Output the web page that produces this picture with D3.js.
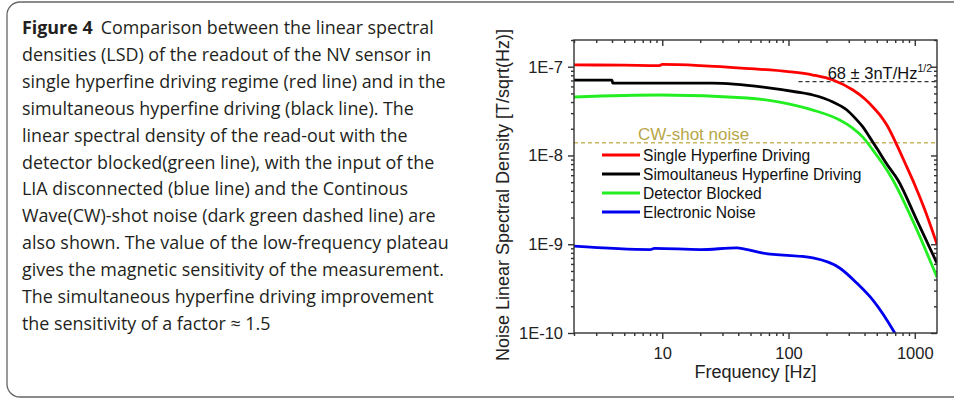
<!DOCTYPE html>
<html lang="en">
<head>
<meta charset="utf-8">
<title>Figure 4</title>
<style>
  body { margin: 0; background: #fff; }
  #fig text { font-family: "Liberation Sans", Arial, sans-serif; }
  #fig .caption text { font-family: "Open Sans", sans-serif; fill: #231f20; }
  .axis path, .axis line { stroke: #333; stroke-width: 1.4; }
</style>
</head>
<body>
<svg id="fig" width="954" height="399"></svg>

<script src="https://cdnjs.cloudflare.com/ajax/libs/d3/7.8.5/d3.min.js"></script>
<script>
"use strict";

// caption lines
var captionLines = [
  "Comparison between the linear spectral",
  "densities (LSD) of the readout of the NV sensor in",
  "single hyperfine driving regime (red line) and in the",
  "simultaneous hyperfine driving (black line). The",
  "linear spectral density of the read-out with the",
  "detector blocked(green line), with the input of the",
  "LIA disconnected (blue line) and the Continous",
  "Wave(CW)-shot noise (dark green dashed line) are",
  "also shown. The value of the low-frequency plateau",
  "gives the magnetic sensitivity of the measurement.",
  "The simultaneous hyperfine driving improvement",
  "the sensitivity of a factor \u2248 1.5"
];

// data (frequency in Hz, LSD in T/sqrt(Hz))
var redFreq   = [2, 5, 9.5, 10, 20, 50, 100, 156, 225, 324, 403, 466, 529, 601, 722, 866, 1001, 1203, 1500];
var redVal    = [1.05e-7, 1.04e-7, 1.03e-7, 1.06e-7, 1.03e-7, 0.95e-7, 0.88e-7, 8.06e-8, 7.08e-8, 5.46e-8, 4.33e-8, 3.52e-8, 2.86e-8, 2.2e-8, 1.31e-8, 7.4e-9, 4.65e-9, 2.43e-9, 1.0e-9];

var blackFreq = [2, 4, 4.05, 25, 63, 116, 156, 225, 290, 340, 388, 440, 511, 600, 735, 1038, 1500];
var blackVal  = [7.08e-8, 7.08e-8, 6.55e-8, 6.55e-8, 5.9e-8, 5.19e-8, 4.8e-8, 4.0e-8, 3.25e-8, 2.6e-8, 2.1e-8, 1.6e-8, 1.15e-8, 8.0e-9, 5.3e-9, 1.87e-9, 6.1e-10];

var greenFreq = [2, 9.6, 47, 85, 156, 254, 320, 388, 466, 560, 671, 1000, 1500];
var greenVal  = [4.56e-8, 4.8e-8, 4.44e-8, 4.0e-8, 3.25e-8, 2.51e-8, 2.05e-8, 1.61e-8, 1.15e-8, 8.0e-9, 5.3e-9, 1.64e-9, 4.26e-10];

var blueFreq  = [2, 8, 8.7, 20, 39, 45, 63, 156, 254, 347, 466, 695, 760];
var blueVal   = [9.5e-10, 8.7e-10, 9.0e-10, 8.7e-10, 9.1e-10, 8.8e-10, 7.96e-10, 7.0e-10, 5.4e-10, 3.66e-10, 2.35e-10, 1.0e-10, 8.0e-11];

var seriesNames  = ["Single Hyperfine Driving", "Simoultaneus Hyperfine Driving", "Detector Blocked", "Electronic Noise"];
var seriesColors = ["#ff0000", "#000000", "#22ee22", "#0000ee"];

var cwShotNoise = 1.39e-8;
var sensLevel = 6.8e-8;
var sensFrom = 120;

var xMajor = [10, 100, 1000];
var yMajor = [1e-10, 1e-9, 1e-8, 1e-7];
var yLabels = ["1E-10", "1E-9", "1E-8", "1E-7"];

var svg = d3.select("#fig");

// rounded frame round the whole figure (right side runs off the page)
svg.append("rect")
  .attr("x", 7).attr("y", 2)
  .attr("width", 1000).attr("height", 395)
  .attr("rx", 13)
  .attr("fill", "none").attr("stroke", "#666").attr("stroke-width", 1.3);

// caption
var cap = svg.append("g").attr("class", "caption");
var fs = 16;
var probe = cap.append("text").attr("font-size", fs).text(captionLines[8]);
fs = fs * 427 / probe.node().getComputedTextLength();
probe.remove();

var first = cap.append("text").attr("x", 22).attr("y", 34).attr("font-size", fs);
first.append("tspan").attr("font-weight", "bold").text("Figure 4");
first.append("tspan").attr("dx", 8).text(captionLines[0]);

cap.selectAll("text.line")
  .data(captionLines.slice(1))
  .enter()
  .append("text")
  .attr("class", "line")
  .attr("x", 22)
  .attr("y", function(d, i){ return 34 + (i + 1) * 26.9; })
  .attr("font-size", fs)
  .text(function(d){ return d; });

// plot
var L = 574, R = 937, T = 40, B = 333;
var x = d3.scaleLog().domain([2, 1500]).range([L, R]);
var y = d3.scaleLog().domain([1e-10, 2e-7]).range([B, T]);

function minors(lo, hi){
  var out = [];
  for (var e = lo; e <= hi; e++){
    for (var m = 1; m <= 9; m++){ out.push(m * Math.pow(10, e)); }
  }
  return out;
}
var xMinor = minors(0, 3).filter(function(v){ return v >= 2 && v <= 1500 && xMajor.indexOf(v) < 0; });
var yMinor = minors(-10, -7).filter(function(v){ return v > 1e-10 && v <= 2.01e-7 && v.toPrecision(1).charAt(0) !== "1"; });

function addAxis(axis, tr){
  var g = svg.append("g").attr("class", "axis").attr("transform", tr).call(axis);
  g.select(".domain").remove();
  return g;
}

// bottom
addAxis(d3.axisBottom(x).tickValues(xMinor).tickSize(3).tickFormat(""), "translate(0," + B + ")");
var xb = addAxis(d3.axisBottom(x).tickValues(xMajor).tickSize(6).tickFormat(d3.format("d")), "translate(0," + B + ")");
xb.selectAll("text").attr("font-size", 16.5).attr("fill", "#222").attr("dy", "1.05em");
// top (inward)
addAxis(d3.axisTop(x).tickValues(xMinor).tickSize(-3).tickFormat(""), "translate(0," + T + ")");
addAxis(d3.axisTop(x).tickValues(xMajor).tickSize(-6).tickFormat(""), "translate(0," + T + ")");
// left
addAxis(d3.axisLeft(y).tickValues(yMinor).tickSize(3).tickFormat(""), "translate(" + L + ",0)");
var yl = addAxis(d3.axisLeft(y).tickValues(yMajor).tickSize(6)
  .tickFormat(function(d, i){ return yLabels[i]; }), "translate(" + L + ",0)");
yl.selectAll("text").attr("font-size", 16.5).attr("fill", "#222").attr("x", -11);
// right (inward)
addAxis(d3.axisRight(y).tickValues(yMinor).tickSize(-3).tickFormat(""), "translate(" + R + ",0)");
addAxis(d3.axisRight(y).tickValues(yMajor).tickSize(-6).tickFormat(""), "translate(" + R + ",0)");

svg.append("clipPath").attr("id", "clip")
  .append("rect").attr("x", L).attr("y", T).attr("width", R - L).attr("height", B - T);

var plot = svg.append("g").attr("clip-path", "url(#clip)");

// CW shot noise
plot.append("line")
  .attr("x1", L).attr("x2", R)
  .attr("y1", y(cwShotNoise)).attr("y2", y(cwShotNoise))
  .attr("stroke", "#c8b560").attr("stroke-width", 1.6).attr("stroke-dasharray", "4,3");

// sensitivity level
plot.append("line")
  .attr("x1", x(sensFrom)).attr("x2", R)
  .attr("y1", y(sensLevel)).attr("y2", y(sensLevel))
  .attr("stroke", "#333").attr("stroke-width", 1.4).attr("stroke-dasharray", "4,3");

var line = d3.line()
  .x(function(d){ return x(d[0]); })
  .y(function(d){ return y(d[1]); })
  .curve(d3.curveMonotoneX);

var series = [
  d3.zip(redFreq, redVal),
  d3.zip(blackFreq, blackVal),
  d3.zip(greenFreq, greenVal),
  d3.zip(blueFreq, blueVal)
];
// draw blue, green, black, red so red ends on top
[3, 2, 1, 0].forEach(function(k){
  plot.append("path")
    .datum(series[k])
    .attr("d", line)
    .attr("fill", "none")
    .attr("stroke", seriesColors[k])
    .attr("stroke-width", 2.8)
    .attr("stroke-linejoin", "round");
});

// frame
svg.append("rect")
  .attr("x", L).attr("y", T).attr("width", R - L).attr("height", B - T)
  .attr("fill", "none").attr("stroke", "#333").attr("stroke-width", 1.4);

// annotations
svg.append("text")
  .attr("x", 638).attr("y", 140)
  .attr("font-size", 17).attr("fill", "#b8a648")
  .text("CW-shot noise");

var ann = svg.append("text")
  .attr("x", 932).attr("y", 79)
  .attr("text-anchor", "end")
  .attr("font-size", 16.5).attr("fill", "#111");
ann.append("tspan").text("68 \u00b1 3nT/Hz");
ann.append("tspan").attr("font-size", 10.5).attr("dy", -7).text("1/2");

// legend
var leg = svg.append("g");
seriesNames.forEach(function(name, i){
  var yy = 155 + i * 19;
  leg.append("line")
    .attr("x1", 602).attr("x2", 640)
    .attr("y1", yy).attr("y2", yy)
    .attr("stroke", seriesColors[i]).attr("stroke-width", 3);
  leg.append("text")
    .attr("x", 643).attr("y", yy + 5.5)
    .attr("font-size", 15.6).attr("fill", "#111")
    .text(name);
});

// axis titles
svg.append("text")
  .attr("x", (L + R) / 2).attr("y", 378)
  .attr("text-anchor", "middle")
  .attr("font-size", 18).attr("fill", "#222")
  .text("Frequency [Hz]");

svg.append("text")
  .attr("transform", "translate(509,195) rotate(-90)")
  .attr("text-anchor", "middle")
  .attr("font-size", 18).attr("fill", "#222")
  .text("Noise Linear Spectral Density [T/sqrt(Hz)]");
</script>
</body>
</html>
